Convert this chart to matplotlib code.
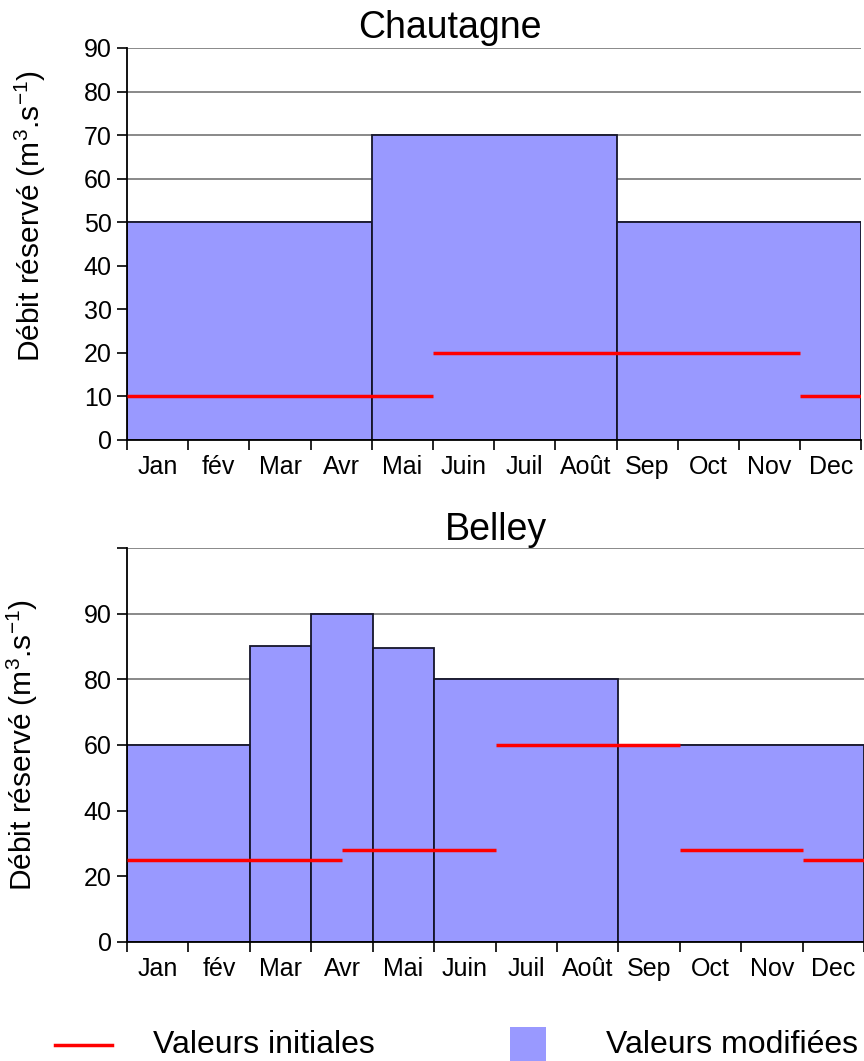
import matplotlib.pyplot as plt
from matplotlib.lines import Line2D
from matplotlib.patches import Rectangle

plt.rcParams['font.family'] = ['Liberation Sans', 'DejaVu Sans']
plt.rcParams['mathtext.default'] = 'regular'

# Data ------------------------------------------------------------------------
months = ['Jan', 'fév', 'Mar', 'Avr', 'Mai', 'Juin', 'Juil', 'Août',
          'Sep', 'Oct', 'Nov', 'Dec']

# Chautagne: modified values (bars) as month blocks
chau_bar_start = [0, 4, 8]
chau_bar_end = [4, 8, 12]
chau_bar_val = [50, 70, 50]
# Chautagne: initial values (red lines)
chau_ini_start = [0, 5, 11]
chau_ini_end = [5, 11, 12]
chau_ini_val = [10, 20, 10]

# Belley
bel_bar_start = [0, 2, 3, 4, 5, 8]
bel_bar_end = [2, 3, 4, 5, 8, 12]
bel_bar_val = [60, 90, 100, 89.5, 80, 60]
bel_ini_start = [0, 3.5, 6, 9, 11]
bel_ini_end = [3.5, 6, 9, 11, 12]
bel_ini_val = [25, 28, 60, 28, 25]

bar_color = '#9999FF'
line_color = '#FF0000'

W, H = 864, 1061
fig = plt.figure(figsize=(W / 100, H / 100), dpi=100)
ax1 = fig.add_axes([0.147, 0.5853, 0.850, 0.3695])
ax2 = fig.add_axes([0.147, 0.1122, 0.853, 0.3713])


def draw_panel(ax, bs, be, bv, ls, le, lv):
    widths = [e - s for s, e in zip(bs, be)]
    ax.bar(bs, bv, width=widths, align='edge', color=bar_color,
           edgecolor='#15152a', linewidth=1.3, zorder=2)
    ax.hlines(lv, ls, le, color=line_color, linewidth=2.5, zorder=3)
    ax.set_xlim(0, 12)
    ax.set_xticks(range(13))
    ax.set_xticklabels([])
    ax.set_xticks([i + 0.5 for i in range(12)], minor=True)
    ax.set_xticklabels(months, minor=True, fontsize=18)
    ax.tick_params(axis='x', which='major', length=7, width=1.2, direction='out')
    ax.tick_params(axis='x', which='minor', length=0, pad=11)
    ax.tick_params(axis='y', length=7, width=1.2, labelsize=18, pad=4)
    for side in ['top', 'right']:
        ax.spines[side].set_visible(False)
    ax.spines['left'].set_linewidth(1.3)
    ax.spines['bottom'].set_linewidth(1.3)
    ax.grid(axis='y', color='#808080', linewidth=1.3)
    ax.set_axisbelow(True)
    ax.set_ylabel('Débit réservé (m$^3$.s$^{-1}$)', fontsize=21.5)


draw_panel(ax1, chau_bar_start, chau_bar_end, chau_bar_val,
           chau_ini_start, chau_ini_end, chau_ini_val)
ax1.set_ylim(0, 90)
ax1.set_yticks(range(0, 91, 10))
ax1.set_title('Chautagne', fontsize=27, x=0.44, pad=7)
ax1.yaxis.set_label_coords(-0.108, 0.57)

draw_panel(ax2, bel_bar_start, bel_bar_end, bel_bar_val,
           bel_ini_start, bel_ini_end, bel_ini_val)
ax2.set_ylim(0, 120)
ax2.set_yticks([0, 20, 40, 60, 80, 100, 120])
ax2.set_yticklabels(['0', '20', '40', '60', '80', '90', ''])
ax2.set_title('Belley', fontsize=27, x=0.5, pad=5)
ax2.yaxis.set_label_coords(-0.118, 0.5)

# Legend (drawn by hand, in figure pixels)
fig.add_artist(Line2D([55 / W, 112 / W], [1 - 1045 / H, 1 - 1045 / H],
                      color=line_color, linewidth=2.5))
fig.add_artist(Rectangle((510 / W, 1 - 1061 / H), 36 / W, 34 / H,
                         facecolor=bar_color, edgecolor='none'))
fig.text(153 / W, 1 - 1045 / H, 'Valeurs initiales', fontsize=23, va='center')
fig.text(606 / W, 1 - 1045 / H, 'Valeurs modifiées', fontsize=23, va='center')

fig.savefig('out.png', dpi=100)
